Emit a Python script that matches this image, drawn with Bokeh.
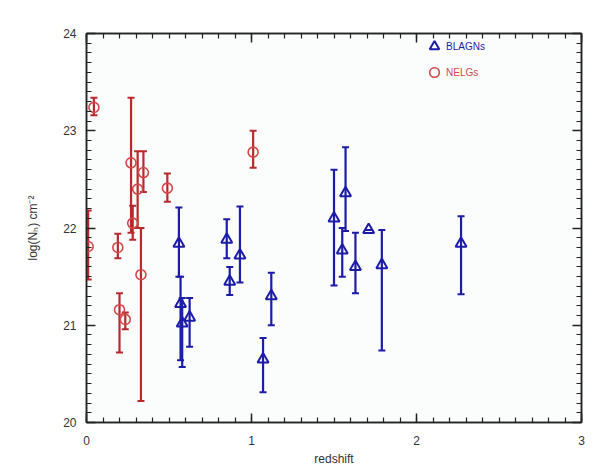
from bokeh.plotting import figure
from bokeh.models import (ColumnDataSource, Whisker, TeeHead, LinearAxis, Range1d,
                          SingleIntervalTicker, CustomJSTickFormatter, Legend, LegendItem)
from bokeh.embed import file_html
from bokeh.resources import INLINE

# NELGs (red circles): redshift, log NH, lower, upper
nelg_z = [0.045, 0.27, 0.28, 0.31, 0.345, 0.33, 0.49, 1.01, 0.01, 0.19, 0.20, 0.235]
nelg_nh = [23.24, 22.67, 22.05, 22.40, 22.57, 21.52, 22.41, 22.78, 21.81, 21.80, 21.16, 21.06]
nelg_lo = [23.16, 21.95, 21.88, 22.00, 22.37, 20.22, 22.27, 22.62, 21.47, 21.69, 20.72, 20.96]
nelg_hi = [23.34, 23.34, 22.23, 22.79, 22.79, 22.00, 22.56, 23.00, 22.18, 21.94, 21.33, 21.13]

# BLAGNs (blue triangles)
blagn_z = [0.56, 0.57, 0.58, 0.625, 0.85, 0.868, 0.93, 1.07, 1.12,
           1.50, 1.57, 1.55, 1.63, 1.71, 1.79, 2.27]
blagn_nh = [21.84, 21.22, 21.02, 21.08, 21.88, 21.45, 21.72, 20.65, 21.30,
            22.10, 22.36, 21.77, 21.60, 21.98, 21.62, 21.84]
blagn_lo = [21.50, 20.64, 20.57, 20.78, 21.69, 21.31, 21.44, 20.31, 21.00,
            21.41, 21.97, 21.50, 21.33, 21.98, 20.74, 21.32]
blagn_hi = [22.21, 21.50, 21.28, 21.28, 22.09, 21.60, 22.22, 20.87, 21.54,
            22.60, 22.83, 22.00, 21.95, 21.98, 21.98, 22.12]

RED_BAR = "#b8282c"
RED_MK = "#d04848"
BLUE = "#1c1ca8"
TXT = "#333333"
FONT = "Liberation Sans"

p = figure(width=590, height=468, x_range=Range1d(0, 3), y_range=Range1d(20, 24),
           output_backend="svg", toolbar_location=None,
           min_border_left=86, min_border_right=9, min_border_top=33, min_border_bottom=46)
p.background_fill_color = "#fbfcfc"
p.border_fill_color = "white"
p.outline_line_color = "#222222"
p.outline_line_width = 1.5
p.grid.visible = False

def style_axis(ax, labels=True):
    ax.ticker = SingleIntervalTicker(interval=1, num_minor_ticks=10)
    ax.axis_line_color = "#222222"
    ax.axis_line_width = 1.5
    ax.major_tick_in = 9
    ax.major_tick_out = 0
    ax.minor_tick_in = 5
    ax.minor_tick_out = 0
    ax.major_tick_line_color = "#222222"
    ax.minor_tick_line_color = "#222222"
    ax.major_tick_line_width = 1.5
    ax.minor_tick_line_width = 1.2
    ax.major_label_text_font = FONT
    ax.major_label_text_font_size = "12px"
    ax.major_label_text_color = TXT
    ax.axis_label_text_font = FONT
    ax.axis_label_text_font_size = "12px"
    ax.axis_label_text_font_style = "normal"
    ax.axis_label_text_color = TXT
    if not labels:
        ax.formatter = CustomJSTickFormatter(code="return ''")

style_axis(p.xaxis[0])
style_axis(p.yaxis[0])
p.xaxis[0].axis_label = "redshift"
p.xaxis[0].major_label_standoff = 13
p.xaxis[0].axis_label_standoff = 4
p.yaxis[0].axis_label = "log(N\u2095) cm\u207B\u00B2"
p.yaxis[0].major_label_standoff = 10
p.yaxis[0].axis_label_standoff = 20

top = LinearAxis()
right = LinearAxis()
style_axis(top, labels=False)
style_axis(right, labels=False)
p.add_layout(top, "above")
p.add_layout(right, "right")

nelg = ColumnDataSource(dict(x=nelg_z, y=nelg_nh, lo=nelg_lo, hi=nelg_hi))
blagn = ColumnDataSource(dict(x=blagn_z, y=blagn_nh, lo=blagn_lo, hi=blagn_hi))

for src, col in ((nelg, RED_BAR), (blagn, BLUE)):
    w = Whisker(source=src, base="x", lower="lo", upper="hi", dimension="height",
                line_color=col, line_width=2.2,
                upper_head=TeeHead(size=7, line_color=col, line_width=2),
                lower_head=TeeHead(size=7, line_color=col, line_width=2))
    p.add_layout(w)

r_n = p.scatter("x", "y", source=nelg, marker="circle", size=10, fill_color=None,
                line_color=RED_MK, line_width=1.6)
r_b = p.scatter("x", "y", source=blagn, marker="triangle", size=11, fill_color=None,
                line_color=BLUE, line_width=2)

def make_legend(label, rend, color, y):
    lg = Legend(items=[LegendItem(label=label, renderers=[rend])], location=(336, y),
                border_line_color=None, background_fill_alpha=0, padding=0, margin=0,
                spacing=0, glyph_width=24, glyph_height=24, label_standoff=0,
                label_text_font=FONT, label_text_font_size="10px",
                label_text_color=color, label_height=10)
    p.add_layout(lg, "center")

make_legend("BLAGNs", r_b, BLUE, 364)
make_legend("NELGs", r_n, RED_MK, 338)

open("out.html", "w").write(file_html(p, INLINE))
